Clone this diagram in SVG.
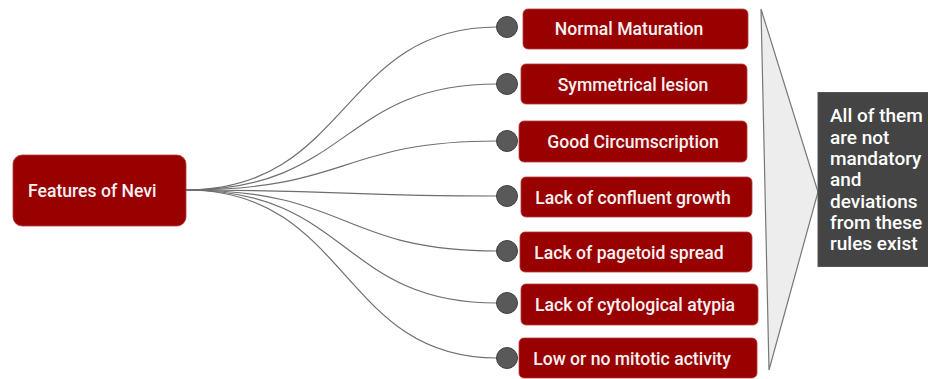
<svg xmlns="http://www.w3.org/2000/svg" width="928" height="379" viewBox="0 0 928 379">
<style>
.box{fill:#990000;stroke:#b33a3a;stroke-width:0.8}
.t{font-family:Roboto,"Liberation Sans",sans-serif;font-size:17.6px;font-weight:500;fill:#f7f2f2}
.c{fill:none;stroke:#6e6e6e;stroke-width:1.2}
.dot{fill:#595959;stroke:#3f3f3f;stroke-width:1}
.n{font-family:Roboto,"Liberation Sans",sans-serif;font-size:19px;font-weight:500;fill:#ffffff}
</style>
<rect width="928" height="379" fill="#ffffff"/>
<g id="connectors">
<path class="c" d="M186,190 C350,190 340,27 497,27"/>
<path class="c" d="M186,190 C350,190 340,84 497,84"/>
<path class="c" d="M186,190 C350,190 340,141 497,141"/>
<path class="c" d="M186,190 C350,190 340,196 497,196"/>
<path class="c" d="M186,190 C350,190 340,251 497,251"/>
<path class="c" d="M186,190 C350,190 340,303 497,303"/>
<path class="c" d="M186,190 C350,190 340,358 497,358"/>
</g>
<g id="root">
<rect class="box" x="13" y="155" width="173" height="71" rx="9"/>
<text class="t" x="28" y="197">Features of Nevi</text>
</g>
<g id="n1"><circle class="dot" cx="507" cy="27" r="10.5"/><rect class="box" x="523" y="9" width="225" height="40" rx="5"/><text class="t" x="629" y="35" text-anchor="middle">Normal Maturation</text></g>
<g id="n2"><circle class="dot" cx="507" cy="84" r="10.5"/><rect class="box" x="521" y="64" width="226" height="40" rx="5"/><text class="t" x="633" y="91" text-anchor="middle">Symmetrical lesion</text></g>
<g id="n3"><circle class="dot" cx="507" cy="141" r="10.5"/><rect class="box" x="519" y="121" width="228" height="41" rx="5"/><text class="t" x="633" y="148" text-anchor="middle">Good Circumscription</text></g>
<g id="n4"><circle class="dot" cx="507" cy="196" r="10.5"/><rect class="box" x="521" y="177" width="231" height="40" rx="5"/><text class="t" x="633" y="204" text-anchor="middle">Lack of confluent growth</text></g>
<g id="n5"><circle class="dot" cx="507" cy="251" r="10.5"/><rect class="box" x="520" y="232" width="232" height="40" rx="5"/><text class="t" x="629" y="259" text-anchor="middle">Lack of pagetoid spread</text></g>
<g id="n6"><circle class="dot" cx="507" cy="303" r="10.5"/><rect class="box" x="521" y="284" width="237" height="41" rx="5"/><text class="t" x="635" y="311" text-anchor="middle">Lack of cytological atypia</text></g>
<g id="n7"><circle class="dot" cx="507" cy="358" r="10.5"/><rect class="box" x="519" y="338" width="238" height="40" rx="5"/><text class="t" x="632" y="365" text-anchor="middle">Low or no mitotic activity</text></g>
<g id="brace">
<polygon points="761,9 818,192 769,370" fill="#ededed" stroke="#777777" stroke-width="1.2"/>
</g>
<g id="note">
<rect x="818" y="92.5" width="112" height="174" fill="#444444" stroke="#555555" stroke-width="1"/>
<text class="n" x="830" y="122">All of them</text>
<text class="n" x="830" y="143.5">are not</text>
<text class="n" x="830" y="164.8">mandatory</text>
<text class="n" x="830" y="186.2">and</text>
<text class="n" x="830" y="207.6">deviations</text>
<text class="n" x="830" y="229">from these</text>
<text class="n" x="830" y="250.4">rules exist</text>
</g>
</svg>
